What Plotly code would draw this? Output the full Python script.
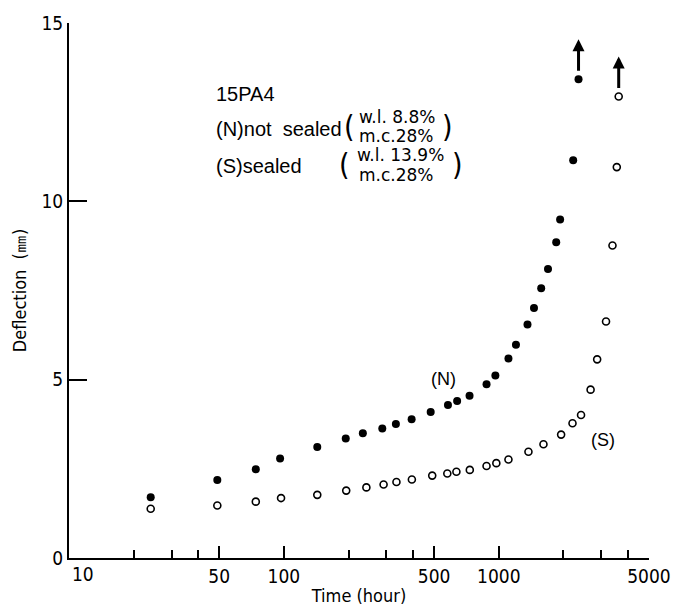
import math
import plotly.graph_objects as go

# Data
t_not_sealed = [24, 49, 74, 96, 143, 194, 233, 287, 332, 393, 482, 580, 640, 731,
                877, 964, 1109, 1202, 1360, 1458, 1575, 1694, 1850, 1929, 2219, 2350]
d_not_sealed = [1.70, 2.19, 2.49, 2.79, 3.11, 3.35, 3.50, 3.63, 3.76, 3.89, 4.09, 4.29, 4.40, 4.55,
                4.87, 5.12, 5.59, 5.98, 6.55, 7.01, 7.56, 8.10, 8.85, 9.49, 11.15, 13.42]

t_sealed = [24, 49, 74, 97, 143, 195, 242, 291, 334, 394, 490, 576, 635, 733,
            877, 974, 1109, 1374, 1614, 1950, 2203, 2414, 2674, 2869, 3155, 3381, 3541, 3614]
d_sealed = [1.38, 1.47, 1.58, 1.68, 1.77, 1.89, 1.98, 2.06, 2.13, 2.20, 2.31, 2.37, 2.42, 2.47,
            2.58, 2.66, 2.76, 2.98, 3.19, 3.46, 3.78, 4.01, 4.72, 5.57, 6.63, 8.76, 10.96, 12.94]

x_major = [10, 50, 100, 500, 1000, 5000]
x_major_text = ["", "50", "100", "500", "1000", "5000"]
x_minor = [20, 30, 40, 200, 300, 400, 2000, 3000, 4000]
y_ticks = [0, 5, 10, 15]

FONT = "Liberation Sans Narrow, Arial Narrow, DejaVu Sans Condensed, Liberation Sans, sans-serif"
TXT = "Liberation Sans, Arial, Helvetica, sans-serif"
WIDE = "DejaVu Sans, Verdana, sans-serif"

fig = go.Figure()
fig.add_trace(go.Scatter(
    x=t_not_sealed, y=d_not_sealed, mode="markers",
    marker=dict(symbol="circle", size=8, color="black"),
    showlegend=False, cliponaxis=False))
fig.add_trace(go.Scatter(
    x=t_sealed, y=d_sealed, mode="markers",
    marker=dict(symbol="circle-open", size=7, color="black", line=dict(width=1.6)),
    showlegend=False, cliponaxis=False))

ann = []
def txt(s, x, y, size=19, xanchor="left", family=TXT):
    ann.append(dict(text=s, x=x, y=y, xref="paper", yref="paper", showarrow=False,
                    xanchor=xanchor, yanchor="middle",
                    font=dict(size=size, family=family, color="black")))

txt("15PA4", 0.2504, 0.8665, size=20)
txt("(N)not\u00a0 sealed", 0.2504, 0.8026, size=20)
txt("(S)sealed", 0.2504, 0.7330, size=20)

txt("w.l. 8.8%", 0.4958, 0.8245, size=17, family=WIDE)
txt("m.c.28%", 0.4958, 0.7879, size=17, family=WIDE)
txt("(", 0.4958, 0.8062, size=30, xanchor="right", family=FONT)
txt(")", 0.6396, 0.8062, size=30, xanchor="left", family=FONT)

txt("w.l. 13.9%", 0.4924, 0.7532, size=17, family=WIDE)
txt("m.c.28%", 0.4958, 0.7166, size=17, family=WIDE)
txt("(", 0.4873, 0.7349, size=30, xanchor="right", family=FONT)
txt(")", 0.6565, 0.7349, size=30, xanchor="left", family=FONT)

txt("(N)", 0.6464, 0.3346, size=18, xanchor="center")
txt("(S)", 0.9205, 0.2212, size=18, xanchor="center")
# first x tick label, left-aligned at the axis origin as in the reference
ann.append(dict(text="10", x=0.002, y=0, xref="paper", yref="paper", showarrow=False,
                xanchor="left", yanchor="top", yshift=-3,
                font=dict(size=19, family=FONT, color="black")))

# arrows above the last point of each series (annotation x on a log axis is log10)
for tx, dy in [(t_not_sealed[-1], d_not_sealed[-1]), (t_sealed[-1], d_sealed[-1])]:
    ann.append(dict(x=math.log10(tx), y=dy, xref="x", yref="y", text="", showarrow=True,
                    ax=0, ay=33, yshift=40,
                    arrowhead=2, arrowsize=0.8, arrowwidth=3, arrowcolor="black"))

fig.update_layout(
    width=683, height=615,
    margin=dict(l=69, r=23, t=15, b=53),
    paper_bgcolor="white", plot_bgcolor="white",
    annotations=ann,
    xaxis=dict(
        type="log", range=[1, 3.69897], showgrid=False, zeroline=False,
        showline=True, linecolor="black", linewidth=2,
        tickmode="array", tickvals=x_major, ticktext=x_major_text,
        ticks="inside", ticklen=12, tickwidth=1.6, tickcolor="black",
        minor=dict(tickmode="array", tickvals=x_minor, ticks="inside", ticklen=8,
                   tickwidth=1.6, tickcolor="black", showgrid=False),
        tickfont=dict(size=19, family=FONT, color="black"),
        title=dict(text="Time (hour)", font=dict(size=18, family=FONT, color="black"), standoff=4),
    ),
    yaxis=dict(
        range=[0, 15], showgrid=False, zeroline=False,
        showline=True, linecolor="black", linewidth=2,
        tickmode="array", tickvals=y_ticks,
        ticks="inside", ticklen=18, tickwidth=1.6, tickcolor="black",
        tickfont=dict(size=19, family=FONT, color="black"),
        title=dict(text="Deflection  (㎜)", font=dict(size=18, family=FONT, color="black"), standoff=10),
    ),
)

fig.write_html("out.html")
